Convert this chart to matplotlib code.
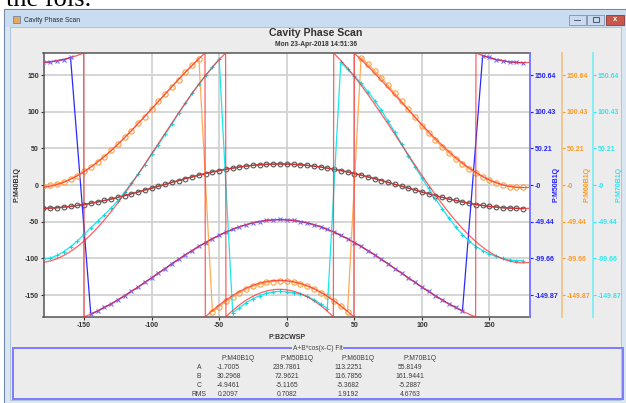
import numpy as np
import matplotlib
matplotlib.use('Agg')
import matplotlib.pyplot as plt
from matplotlib.patches import Rectangle

plt.rcParams['font.family'] = ['Liberation Sans', 'DejaVu Sans']
plt.rcParams['axes.unicode_minus'] = False

# --- data -------------------------------------------------------------
# phase setpoint of the cavity (P:B2CWSP), deg
setpoint = list(range(-180, 180, 5))

# measured BPM phases, deg (None = no reading)
m40 = [-31.9, -31.4, -31.1, -30.0, -29.3, -27.8, -26.6, -24.8, -23.2, -21.0, -19.2, -16.8,
       -14.6, -12.0, -9.6, -6.8, -4.4, -1.6, 0.8, 3.7, 6.0, 8.8, 11.0, 13.6,
       15.6, 17.9, 19.6, 21.6, 23.0, 24.6, 25.7, 26.9, 27.5, 28.2, 28.4, 28.7,
       28.4, 28.2, 27.5, 26.9, 25.7, 24.6, 23.0, 21.6, 19.6, 17.9, 15.6, 13.6,
       11.0, 8.8, 6.0, 3.7, 0.8, -1.6, -4.4, -6.8, -9.6, -12.0, -14.6, -16.8,
       -19.2, -21.0, -23.2, -24.8, -26.6, -27.8, -29.3, -30.0, -31.1, -31.4, -31.9, -32.1]
m50 = [167.3, 167.7, 169.5, 171.0, 173.9, None, None, -176.0, -171.9, -166.8, -162.3, -156.5,
       -151.2, -145.0, -139.4, -132.6, -126.9, -120.0, -114.1, -107.2, -101.5, -95.0, -89.6, -83.5,
       -78.6, -73.1, -68.8, -64.1, -60.6, -56.8, -54.3, -51.4, -49.9, -48.2, -47.7, -47.0,
       -47.7, -48.2, -49.9, -51.4, -54.3, -56.8, -60.6, -64.1, -68.8, -73.1, -78.6, -83.5,
       -89.6, -95.0, -101.5, -107.2, -114.1, -120.0, -126.9, -132.6, -139.4, -145.0, -151.2, -156.5,
       -162.3, -166.8, -171.9, None, None, 176.4, 173.9, 171.0, 169.5, 167.7, 167.3, 166.6]
m60 = [-1.5, -0.5, 1.8, 4.2, 8.6, 12.9, 18.8, 24.6, 31.9, 38.7, 47.1, 55.3,
       64.8, 73.9, 84.1, 93.4, 103.8, 113.9, 123.9, 134.2, 143.8, 153.9, 163.0, 172.2,
       None, -172.9, -165.8, -158.6, -152.8, -146.9, -142.3, -138.1, -135.4, -132.9, -131.6, -130.8,
       -131.3, -132.5, -135.1, -137.9, -141.6, -146.8, -152.0, -158.4, -165.1, -172.8, None, 173.8,
       165.1, 155.9, 146.0, 135.8, 125.0, 114.4, 103.2, 92.1, 81.0, 70.6, 61.2, 51.9,
       43.4, 35.8, 28.7, 21.9, 16.0, 10.9, 6.3, 2.7, -0.2, -2.1, -3.0, -3.3]
m70 = [-101.5, -99.7, -96.1, -90.9, -84.0, -76.4, -67.4, -58.2, -49.7, -40.8, -31.6, -21.2,
       -9.6, 2.4, 14.9, 27.7, 41.7, 54.8, 68.9, 82.9, 97.7, 111.2, 125.3, 137.8,
       149.7, 160.9, 171.8, None, -174.2, -167.3, -160.6, -155.1, -150.9, -147.6, -145.8, -145.0,
       -145.9, -146.7, -148.8, -152.0, -156.4, -162.0, -168.5, None, 167.3, 157.9, 148.7, 138.8,
       127.3, 115.2, 101.7, 86.9, 71.9, 55.8, 39.7, 24.7, 9.9, -4.6, -18.6, -32.2,
       -45.1, -57.3, -67.7, -76.7, -83.9, -89.4, -94.0, -97.4, -100.1, -102.2, -103.0, -103.1]

# fit table A+B*cos(x-C)
bpm_names = ['P:M40B1Q', 'P:M50B1Q', 'P:M60B1Q', 'P:M70B1Q']
fit_A = [-1.7005, 239.7861, 113.2251, 55.8149]
fit_B = [30.2968, 72.9621, 116.7856, 161.9441]
fit_C = [-4.9461, -5.1165, -5.3682, -5.2887]
fit_rms = [0.2097, 0.7082, 1.9192, 4.6763]

yticks = [-150, -100, -50, 0, 50, 100, 150]
right_labels = ['-149.87', '-99.66', '-49.44', '-0', '50.21', '100.43', '150.64']

W, H = 626, 403


def fx(px):
    return px / W


def fy(py):
    return 1 - py / H


fig = plt.figure(figsize=(W / 100, H / 100), dpi=100)
fig.patch.set_facecolor('white')


def box(x0, y0, x1, y1, z=-5, **kw):
    r = Rectangle((fx(x0), fy(y1)), (x1 - x0) / W, (y1 - y0) / H,
                  transform=fig.transFigure, zorder=z, **kw)
    fig.patches.append(r)
    return r


# text of the page above the screenshot (cut off by the top edge, as in the original)
fig.text(fx(6), fy(6.5), 'the fols.', family='Liberation Serif', fontsize=19,
         va='baseline', ha='left', color='black')

# window frame
box(4, 9, 628, 405, fc='#dbe6f3', ec='#7089a8', lw=0.8)
box(5, 10, 628, 27, fc='#cadcf0', ec='none')
box(9.5, 27, 621, 400, fc='#ececec', ec='#a9bdd6', lw=0.6)
box(13, 16, 20, 23, fc='#e9a85a', ec='#5a78a8', lw=0.5)
fig.text(fx(24), fy(20), 'Cavity Phase Scan', fontsize=4.8, va='center', color='#1e2a3a')

# min / max / close buttons
box(569, 15, 586, 24.5, fc='#cbdaee', ec='#7f93ad', lw=0.6)
box(574, 19.5, 581, 21, fc='#4d5f77')
box(587, 15, 604, 24.5, fc='#cbdaee', ec='#7f93ad', lw=0.6)
box(592.5, 17.5, 598.5, 22, fc='none', ec='#4d5f77', lw=0.8)
box(606, 15, 624, 24.5, fc='#c8574c', ec='#8c3a33', lw=0.6)
fig.text(fx(615), fy(19.8), 'x', fontsize=5.5, weight='bold', color='white',
         ha='center', va='center')

# chart titles
fig.text(fx(316), fy(33.5), 'Cavity Phase Scan', fontsize=7.6, weight='bold',
         ha='center', va='center', color='#333333')
fig.text(fx(316), fy(44.5), 'Mon 23-Apr-2018 14:51:36', fontsize=4.8, weight='bold',
         ha='center', va='center', color='#333333')

# main axes
ax = fig.add_axes([fx(43.5), fy(317), (530 - 43.5) / W, (317 - 53) / H])
ax.set_facecolor('white')
ax.set_xlim(-180, 180)
ax.set_ylim(-180, 180)
ax.set_xticks(yticks)
ax.set_yticks(yticks)
ax.grid(True, color='#d2d2d2', lw=1.3)
ax.set_axisbelow(True)
ax.tick_params(labelsize=5, length=2.2, width=0.8, pad=1.2, colors='#333333')
for lab in ax.get_xticklabels() + ax.get_yticklabels():
    lab.set_fontweight('bold')
for s in ['left', 'top', 'bottom']:
    ax.spines[s].set_color('#555555')
    ax.spines[s].set_linewidth(1.1)
ax.spines['right'].set_visible(False)

# data
styles = [
    (m40, dict(color='#3a3a3a', marker='o', ms=3.4, mfc='none', mec='#555555', mew=0.8, lw=0.9)),
    (m50, dict(color='#2a2aff', marker='x', ms=3.0, mec='#7070ff', mew=0.8, lw=0.9)),
    (m60, dict(color='#ffaa55', marker='o', ms=3.8, mfc='none', mec='#ff9f40', mew=0.8, lw=0.9)),
    (m70, dict(color='#1ae6ee', marker='+', ms=3.4, mec='#10d8e8', mew=0.8, lw=0.9)),
]
for vals, st in styles:
    xs = [x for x, v in zip(setpoint, vals) if v is not None]
    ys = [v for v in vals if v is not None]
    ax.plot(xs, ys, zorder=3, **st)

# fit curves, wrapped to +-180
xf = np.linspace(-180, 180, 1441)
for a, b, c in zip(fit_A, fit_B, fit_C):
    yf = a + b * np.cos(np.radians(xf - c))
    yf = (yf + 180) % 360 - 180
    ax.plot(xf, yf, color='#ff2a2a', lw=0.9, alpha=0.75, zorder=4)

# right hand axes
right_axes = [
    (1.0, '#2020ff', '#7070ff', 'P:M50B1Q', 556),
    ((562 - 43.5) / 486.5, '#ff9a22', '#f2c48a', 'P:M60B1Q', 587),
    ((593 - 43.5) / 486.5, '#2fe6f0', '#7eeef2', 'P:M70B1Q', 619),
]
for off, tcol, scol, name, lx in right_axes:
    axr = ax.twinx()
    axr.set_ylim(-180, 180)
    axr.set_yticks(yticks)
    axr.set_yticklabels(right_labels)
    for s in ['left', 'top', 'bottom']:
        axr.spines[s].set_visible(False)
    axr.spines['right'].set_position(('axes', off))
    axr.spines['right'].set_color(scol)
    axr.spines['right'].set_linewidth(1.3)
    axr.tick_params(axis='y', labelsize=5, length=2.2, width=0.8, pad=1.2,
                    colors=tcol)
    for lab in axr.get_yticklabels():
        lab.set_fontweight('bold')
    fig.text(fx(lx), fy(185), name, rotation=90, fontsize=5, weight='bold',
             color=tcol, ha='center', va='center')

fig.text(fx(16.7), fy(185), 'P:M40B1Q', rotation=90, fontsize=5, weight='bold',
         color='#333333', ha='center', va='center')
fig.text(fx(287), fy(337.7), 'P:B2CWSP', fontsize=5, weight='bold',
         color='#333333', ha='center', va='center')

# fit table
box(12.5, 348, 623, 399, z=2, fc='none', ec='#7c7cff', lw=1.4)
fig.text(fx(317.5), fy(348), 'A+B*cos(x-C) Fit', ha='center', va='center', fontsize=4.8,
         color='#444444', bbox=dict(fc='#ececec', ec='none', pad=0.6), zorder=3)

head_x = [238.5, 297, 358, 420]
val_x = [228.5, 287, 348.5, 410]
row_y = [367.5, 376.3, 385.2, 394]
tcol = '#3c3c3c'
for name, hx in zip(bpm_names, head_x):
    fig.text(fx(hx), fy(358.5), name, ha='center', va='center', fontsize=4.9, color=tcol)
for rname, ry, vals in zip(['A', 'B', 'C', 'RMS'], row_y, [fit_A, fit_B, fit_C, fit_rms]):
    fig.text(fx(199), fy(ry), rname, ha='center', va='center', fontsize=4.9, color=tcol)
    for v, vx in zip(vals, val_x):
        fig.text(fx(vx), fy(ry), '%.4f' % v, ha='center', va='center', fontsize=4.9, color=tcol)

fig.savefig('out.png', dpi=100)
